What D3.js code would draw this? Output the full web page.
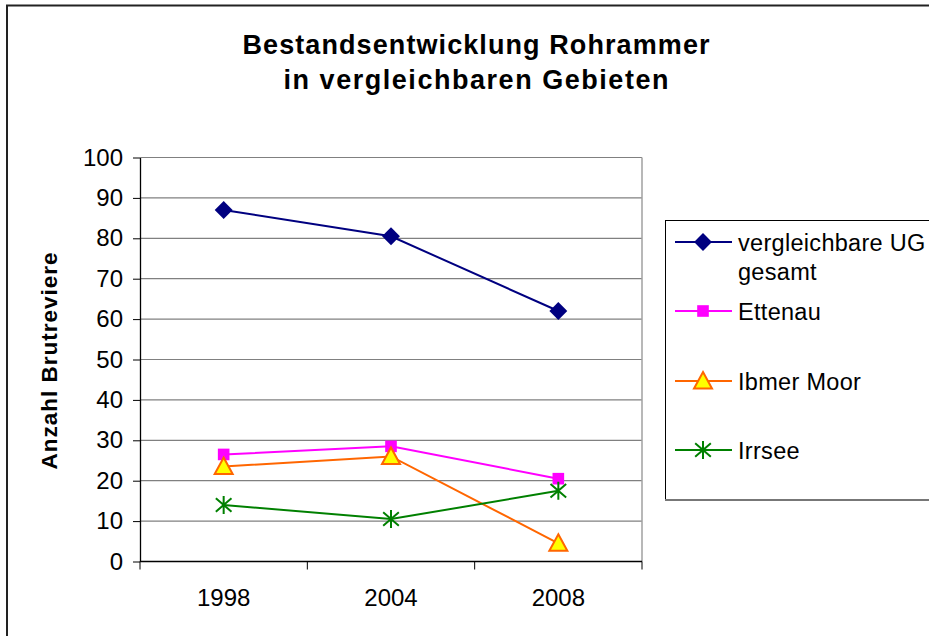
<!DOCTYPE html>
<html>
<head>
	<meta charset="utf-8">
	<title>Bestandsentwicklung Rohrammer</title>
	<script src="https://cdn.jsdelivr.net/npm/d3@7"></script>
	<style>
		body { margin: 0; background: #fff; }
		svg { display: block; font-family: Arial, "Liberation Sans", sans-serif; }
	</style>
</head>
<body>
	<div id="chart"></div>
	<script>

	// data
	const years   = ["1998", "2004", "2008"];
	const names   = ["vergleichbare UG gesamt", "Ettenau", "Ibmer Moor", "Irrsee"];
	const gesamt  = [87, 80.5, 62];
	const ettenau = [26.5, 28.5, 20.5];
	const ibmer   = [23.5, 26, 4.5];
	const irrsee  = [14, 10.5, 17.5];
	const yTicks  = [0, 10, 20, 30, 40, 50, 60, 70, 80, 90, 100];
	const title   = ["Bestandsentwicklung Rohrammer", "in vergleichbaren Gebieten"];
	const yLabel  = "Anzahl Brutreviere";

	// customization
	const width  = 929;
	const height = 636;
	const plot   = { left: 140, right: 642, top: 157.5, bottom: 561.5 };
	const styles = [
		{ stroke: "#000080", fill: "#000080", marker: "diamond" },
		{ stroke: "#FF00FF", fill: "#FF00FF", marker: "square" },
		{ stroke: "#FF6600", fill: "#FFFF00", marker: "triangle" },
		{ stroke: "#008000", fill: "none",    marker: "star" }
	];
	const series = [gesamt, ettenau, ibmer, irrsee];

	const svg = d3.select("#chart").append("svg")
		.attr("width", width)
		.attr("height", height)
		.attr("viewBox", [0, 0, width, height]);

	// outer frame
	svg.append("rect")
		.attr("x", 7).attr("y", 5.5)
		.attr("width", width + 20).attr("height", height + 20)
		.attr("fill", "none").attr("stroke", "#222").attr("stroke-width", 2);

	const x = d3.scaleBand().domain(years).range([plot.left, plot.right]);
	const cx = d => x(d) + x.bandwidth() / 2;
	const y = d3.scaleLinear().domain([0, 100]).range([plot.bottom, plot.top]);

	// grid
	svg.append("g")
		.selectAll("line")
		.data(yTicks.filter(d => d > 0))
		.join("line")
		.attr("x1", plot.left).attr("x2", plot.right)
		.attr("y1", d => y(d)).attr("y2", d => y(d))
		.attr("stroke", "#808080").attr("stroke-width", 1.2);
	svg.append("line")
		.attr("x1", plot.right).attr("x2", plot.right)
		.attr("y1", plot.top).attr("y2", plot.bottom)
		.attr("stroke", "#a0a0a0").attr("stroke-width", 1.5);

	// y axis
	const yAxis = d3.axisLeft(y).tickValues(yTicks).tickSize(7).tickPadding(10).tickSizeOuter(0);
	svg.append("g")
		.attr("transform", `translate(${plot.left},0)`)
		.call(yAxis)
		.call(g => g.select(".domain").attr("stroke", "#000").attr("stroke-width", 1.3))
		.call(g => g.selectAll(".tick line").attr("stroke", "#000"))
		.call(g => g.selectAll(".tick text")
			.attr("font-size", "24px").attr("fill", "#000")
			.attr("font-family", "Arial, 'Liberation Sans', sans-serif"));

	// x axis: ticks between categories
	const xEdges = years.map(d => x(d)).concat([plot.right]);
	svg.append("line")
		.attr("x1", plot.left).attr("x2", plot.right)
		.attr("y1", plot.bottom).attr("y2", plot.bottom)
		.attr("stroke", "#000").attr("stroke-width", 1.3);
	svg.append("g")
		.selectAll("line")
		.data(xEdges)
		.join("line")
		.attr("x1", d => d).attr("x2", d => d)
		.attr("y1", plot.bottom).attr("y2", plot.bottom + 8)
		.attr("stroke", "#000");
	svg.append("g")
		.selectAll("text")
		.data(years)
		.join("text")
		.attr("x", d => cx(d))
		.attr("y", 606)
		.attr("text-anchor", "middle")
		.attr("font-size", "24px")
		.text(d => d);

	// title
	svg.append("g")
		.selectAll("text")
		.data(title)
		.join("text")
		.attr("x", 476)
		.attr("y", (d, i) => 54 + i * 35)
		.attr("text-anchor", "middle")
		.attr("font-size", "27px")
		.attr("font-weight", "bold")
		.attr("textLength", (d, i) => i === 0 ? 467 : 385)
		.attr("lengthAdjust", "spacing")
		.text(d => d);

	// y label
	svg.append("text")
		.attr("transform", "translate(57,361) rotate(-90)")
		.attr("text-anchor", "middle")
		.attr("font-size", "22.5px")
		.attr("font-weight", "bold")
		.attr("textLength", 217)
		.attr("lengthAdjust", "spacing")
		.text(yLabel);

	// markers
	function drawMarker(g, type, st) {
		if (type === "diamond") {
			g.append("path")
				.attr("d", d3.symbol(d3.symbolSquare, 160)())
				.attr("transform", "rotate(45)")
				.attr("fill", st.fill);
		} else if (type === "square") {
			g.append("path")
				.attr("d", d3.symbol(d3.symbolSquare, 135)())
				.attr("fill", st.fill);
		} else if (type === "triangle") {
			g.append("path")
				.attr("d", "M0,-9L9,7.5L-9,7.5Z")
				.attr("fill", st.fill)
				.attr("stroke", st.stroke).attr("stroke-width", 2)
				.attr("stroke-linejoin", "miter");
		} else {
			const r = 9;
			const p = d3.path();
			p.moveTo(0, -r); p.lineTo(0, r);
			p.moveTo(-r * 0.87, -r * 0.75); p.lineTo(r * 0.87, r * 0.75);
			p.moveTo(-r * 0.87, r * 0.75); p.lineTo(r * 0.87, -r * 0.75);
			g.append("path")
				.attr("d", p.toString())
				.attr("fill", "none")
				.attr("stroke", st.stroke).attr("stroke-width", 2);
		}
	}

	const line = d3.line()
		.x((d, i) => cx(years[i]))
		.y(d => y(d));

	series.forEach((vals, k) => {
		const st = styles[k];
		svg.append("path")
			.attr("d", line(vals))
			.attr("fill", "none")
			.attr("stroke", st.stroke)
			.attr("stroke-width", 2);
		vals.forEach((v, i) => {
			const g = svg.append("g").attr("transform", `translate(${cx(years[i])},${y(v)})`);
			drawMarker(g, st.marker, st);
		});
	});

	// legend
	const legend = svg.append("g");
	legend.append("rect")
		.attr("x", 665.5).attr("y", 220.5)
		.attr("width", 300).attr("height", 279)
		.attr("fill", "#fff").attr("stroke", "#000").attr("stroke-width", 1);
	legend.append("line")
		.attr("x1", 665).attr("x2", width)
		.attr("y1", 500).attr("y2", 500)
		.attr("stroke", "#777").attr("stroke-width", 2);

	const legendRows = [242, 311, 381, 450];
	names.forEach((name, k) => {
		const st = styles[k];
		const ly = legendRows[k];
		legend.append("line")
			.attr("x1", 675).attr("x2", 732)
			.attr("y1", ly).attr("y2", ly)
			.attr("stroke", st.stroke).attr("stroke-width", 2);
		drawMarker(legend.append("g").attr("transform", `translate(703,${ly})`), st.marker, st);
		const t = legend.append("text")
			.attr("x", 738)
			.attr("y", ly + 8.5)
			.attr("font-size", "23.5px")
			.attr("letter-spacing", "0.3px");
		if (k === 0) {
			t.append("tspan").text("vergleichbare UG");
			t.append("tspan").attr("x", 738).attr("dy", 29).text("gesamt");
		} else {
			t.text(name);
		}
	});

	</script>
</body>
</html>
